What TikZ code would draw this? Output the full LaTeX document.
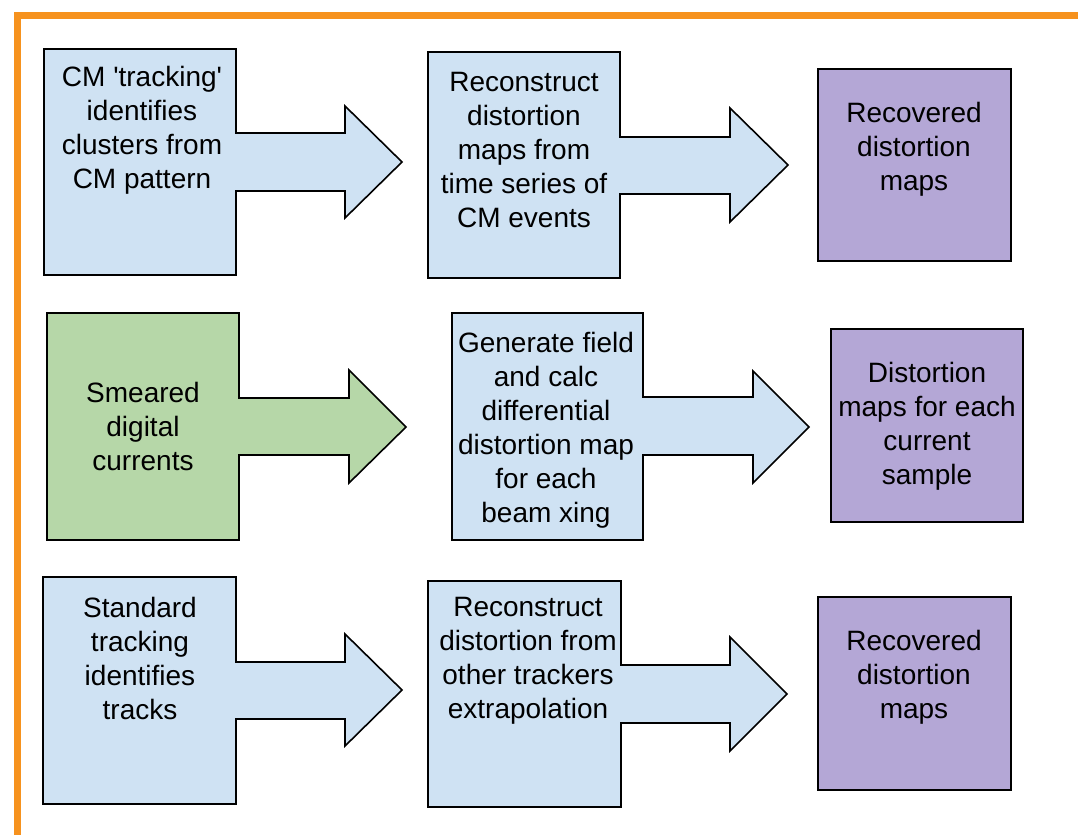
\documentclass[tikz,border=0pt]{standalone}
\usepackage{tikz}
\usepackage{fontspec}
\setmainfont{Liberation Sans}
\definecolor{frameorange}{RGB}{246,146,30}
\definecolor{boxblue}{RGB}{207,226,243}
\definecolor{boxgreen}{RGB}{182,215,168}
\definecolor{boxpurple}{RGB}{180,167,214}

\begin{document}
\begin{tikzpicture}[x=0.75pt,y=0.75pt,yscale=-1,xscale=1,
  bluebox/.style={draw=black,fill=boxblue,line width=1.2pt,line join=miter},
  greenbox/.style={draw=black,fill=boxgreen,line width=1.2pt,line join=miter},
  purplebox/.style={draw=black,fill=boxpurple,line width=1.2pt},
  txt/.style={align=center,inner sep=0pt,font=\fontsize{21}{25.5}\selectfont}]
\useasboundingbox (0,0) rectangle (1078,835);

%Shape: orange frame
\draw [frameorange,line width=5.25pt] (1078,15) -- (17,15) -- (17,835) ;

%Shape: Box with arrow, row 1
\draw [bluebox] (44,49) -- (236,49) -- (236,133) -- (345,133) -- (345,106) -- (402,162) -- (345,218) -- (345,191) -- (236,191) -- (236,275) -- (44,275) -- cycle ;
\draw [bluebox] (428,52) -- (620,52) -- (620,137) -- (730,137) -- (730,108) -- (788,165) -- (730,222) -- (730,194) -- (620,194) -- (620,278) -- (428,278) -- cycle ;
%Shape: Rectangle
\draw [purplebox] (818,69) rectangle (1011,261) ;

%Shape: Box with arrow, row 2
\draw [greenbox] (47,313) -- (239,313) -- (239,398) -- (349,398) -- (349,370) -- (406,427) -- (349,483) -- (349,455) -- (239,455) -- (239,540) -- (47,540) -- cycle ;
\draw [bluebox] (452,313) -- (643,313) -- (643,397) -- (753,397) -- (753,371) -- (809,427) -- (753,483) -- (753,455) -- (643,455) -- (643,540) -- (452,540) -- cycle ;
%Shape: Rectangle
\draw [purplebox] (831,329) rectangle (1023,522) ;

%Shape: Box with arrow, row 3
\draw [bluebox] (43,577) -- (236,577) -- (236,662) -- (345,662) -- (345,634) -- (402,690) -- (345,746) -- (345,719) -- (236,719) -- (236,804) -- (43,804) -- cycle ;
\draw [bluebox] (428,581) -- (621,581) -- (621,665) -- (730,665) -- (730,637) -- (787,694) -- (730,751) -- (730,723) -- (621,723) -- (621,807) -- (428,807) -- cycle ;
%Shape: Rectangle
\draw [purplebox] (818,597) rectangle (1011,790) ;

% Text Node
\node [txt] (cmtrack) at (142,130) {CM \textquotesingle tracking\textquotesingle\\identifies\\clusters from\\CM pattern};
% Text Node
\node [txt] (cmreco) at (524,150) {Reconstruct\\distortion\\maps from\\time series of\\CM events};
% Text Node
\node [txt] (cmmaps) at (914,149) {Recovered\\distortion\\maps};

% Text Node
\node [txt] (smeared) at (143,426) {Smeared\\digital\\currents};
% Text Node
\node [txt] (genfield) at (546,430) {Generate field\\and calc\\differential\\distortion map\\for each\\beam xing};
% Text Node
\node [txt] (curmaps) at (927,426) {Distortion\\maps for each\\current\\sample};

% Text Node
\node [txt] (stdtrack) at (140,658) {Standard\\tracking\\identifies\\tracks};
% Text Node
\node [txt] (trkreco) at (528,661) {Reconstruct\\distortion from\\other trackers\\extrapolation};
% Text Node
\node [txt] (trkmaps) at (914,677) {Recovered\\distortion\\maps};

\end{tikzpicture}
\end{document}
